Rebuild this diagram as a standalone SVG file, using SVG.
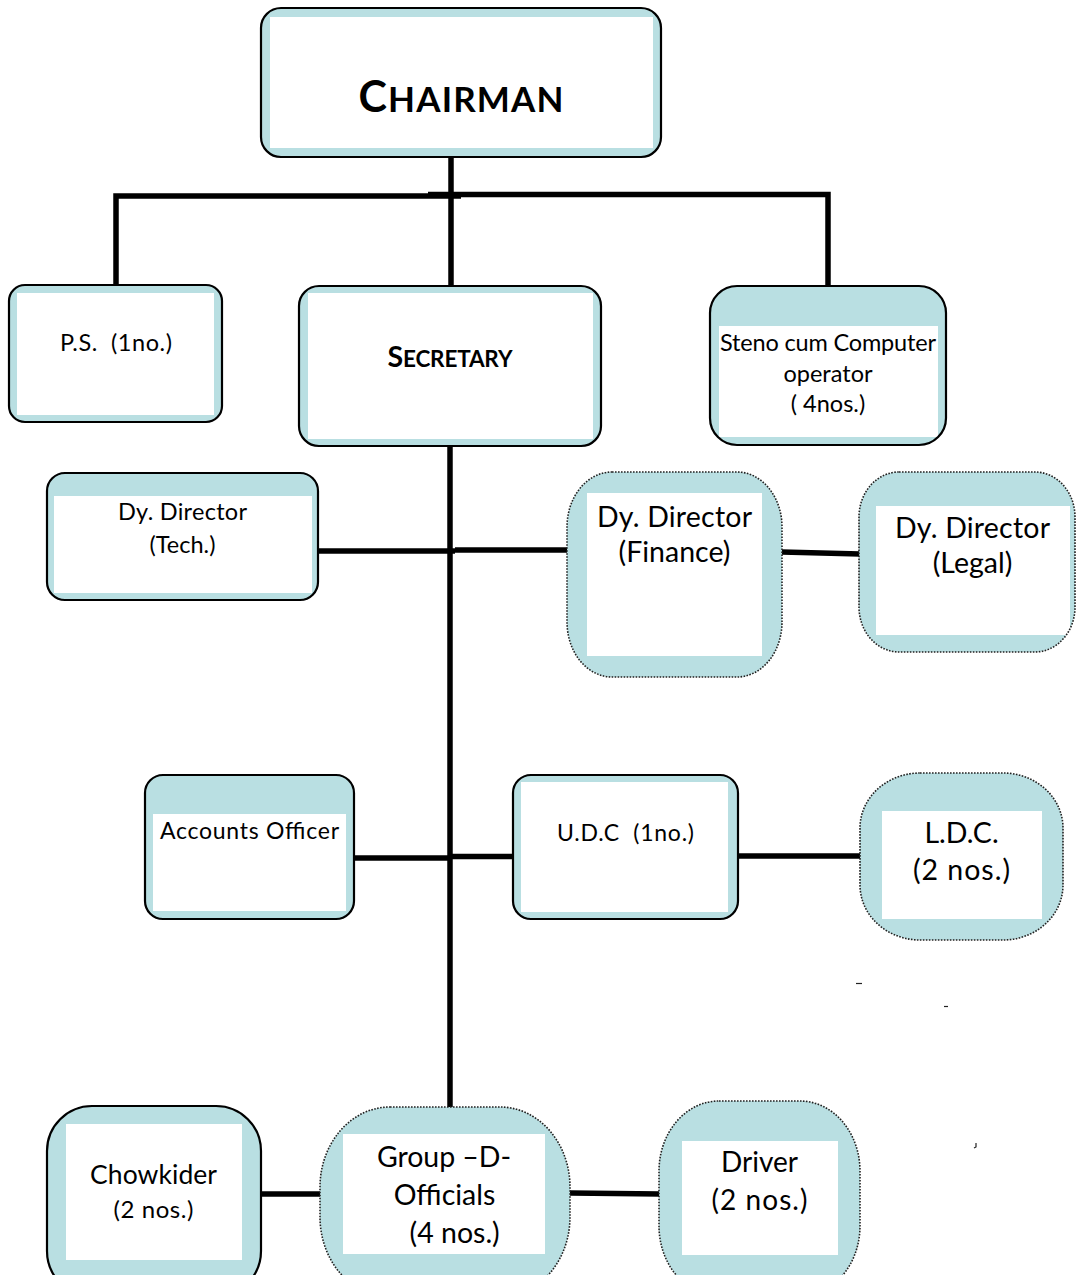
<svg xmlns="http://www.w3.org/2000/svg" width="1076" height="1275" viewBox="0 0 1076 1275">
<style>
.bg{fill:#b9dfe2}
.in{fill:#ffffff}
.bd{fill:none;stroke:#000;stroke-width:2.2}
.dt{fill:none;stroke:#222;stroke-width:1.6;stroke-dasharray:1.6 1.4}
.cn{fill:none;stroke:#000;stroke-width:5.5;stroke-linejoin:miter}
.t{font-family:Lato,"Open Sans",sans-serif;fill:#000;text-anchor:middle}
.b{font-weight:bold}
.mk{fill:none;stroke:#222;stroke-width:1.2}
</style>
<rect width="1076" height="1275" fill="#fff"/>

<g id="connectors">
  <path class="cn" d="M451,157 V287"/>
  <path class="cn" d="M116,288 V196 H461"/>
  <path class="cn" d="M428,194.5 H828 V288"/>
  <path class="cn" d="M450,447 V1108"/>
  <path class="cn" d="M319,551 H455"/>
  <path class="cn" d="M455,550 H568"/>
  <path class="cn" d="M782,552 L860,554"/>
  <path class="cn" d="M354,858 H451"/>
  <path class="cn" d="M451,856.5 H514"/>
  <path class="cn" d="M738,856 H861"/>
  <path class="cn" d="M261,1194 H320"/>
  <path class="cn" d="M570,1193 L660,1194"/>
</g>

<g id="chairman">
  <rect class="bg" x="261" y="8" width="400" height="149" rx="20"/>
  <rect class="in" x="270" y="17" width="383" height="131"/>
  <rect class="bd" x="261" y="8" width="400" height="149" rx="20"/>
  <text class="t b" x="461" y="112" font-size="43" textLength="205">C<tspan font-size="35">HAIRMAN</tspan></text>
</g>

<g id="ps">
  <rect class="bg" x="9" y="285" width="213" height="137" rx="16"/>
  <rect class="in" x="17" y="293" width="197" height="122"/>
  <rect class="bd" x="9" y="285" width="213" height="137" rx="16"/>
  <text class="t" x="116" y="351" font-size="23.5" textLength="112" xml:space="preserve">P.S.  (1no.)</text>
</g>

<g id="secretary">
  <rect class="bg" x="299" y="286" width="302" height="160" rx="20"/>
  <rect class="in" x="308" y="293" width="285" height="146"/>
  <rect class="bd" x="299" y="286" width="302" height="160" rx="20"/>
  <text class="t b" x="450" y="367" font-size="28.5" textLength="125">S<tspan font-size="22.5">ECRETARY</tspan></text>
</g>

<g id="steno">
  <rect class="bg" x="710" y="286" width="236" height="159" rx="27"/>
  <rect class="in" x="719" y="326" width="219" height="111"/>
  <rect class="bd" x="710" y="286" width="236" height="159" rx="27"/>
  <text class="t" x="828" y="351" font-size="23.5" textLength="216">Steno cum Computer</text>
  <text class="t" x="828" y="382" font-size="23.5">operator</text>
  <text class="t" x="828" y="412" font-size="23.5">( 4nos.)</text>
</g>

<g id="dy-tech">
  <rect class="bg" x="47" y="473" width="271" height="127" rx="18"/>
  <rect class="in" x="54" y="496" width="258" height="97"/>
  <rect class="bd" x="47" y="473" width="271" height="127" rx="18"/>
  <text class="t" x="182.5" y="520" font-size="23.5" textLength="129">Dy. Director</text>
  <text class="t" x="182.5" y="553" font-size="23.5">(Tech.)</text>
</g>

<g id="dy-finance">
  <rect class="bg" x="567" y="472" width="215" height="205" rx="45" ry="55"/>
  <rect class="in" x="587" y="493" width="175" height="163"/>
  <rect class="dt" x="567" y="472" width="215" height="205" rx="45" ry="55"/>
  <text class="t" x="674.5" y="527" font-size="28.5" textLength="155">Dy. Director</text>
  <text class="t" x="674.5" y="562" font-size="28.5">(Finance)</text>
</g>

<g id="dy-legal">
  <rect class="bg" x="859" y="472" width="216" height="180" rx="40" ry="45"/>
  <rect class="in" x="876" y="506" width="194" height="129"/>
  <rect class="dt" x="859" y="472" width="216" height="180" rx="40" ry="45"/>
  <text class="t" x="972.5" y="538" font-size="28.5" textLength="155">Dy. Director</text>
  <text class="t" x="972.5" y="573" font-size="28.5">(Legal)</text>
</g>

<g id="accounts">
  <rect class="bg" x="145" y="775" width="209" height="144" rx="18"/>
  <rect class="in" x="153" y="814" width="193" height="97"/>
  <rect class="bd" x="145" y="775" width="209" height="144" rx="18"/>
  <text class="t" x="249.5" y="839" font-size="23" textLength="179">Accounts Officer</text>
</g>

<g id="udc">
  <rect class="bg" x="513" y="775" width="225" height="144" rx="18"/>
  <rect class="in" x="521" y="782" width="207" height="130"/>
  <rect class="bd" x="513" y="775" width="225" height="144" rx="18"/>
  <text class="t" x="625.5" y="841" font-size="23" textLength="137" xml:space="preserve">U.D.C  (1no.)</text>
</g>

<g id="ldc">
  <rect class="bg" x="860" y="773" width="203" height="167" rx="60" ry="55"/>
  <rect class="in" x="882" y="811" width="160" height="108"/>
  <rect class="dt" x="860" y="773" width="203" height="167" rx="60" ry="55"/>
  <text class="t" x="961.5" y="843" font-size="28.5">L.D.C.</text>
  <text class="t" x="961.5" y="880" font-size="28.5" textLength="97">(2 nos.)</text>
</g>

<g id="chowkider">
  <rect class="bg" x="47" y="1106" width="214" height="190" rx="45"/>
  <rect class="in" x="66" y="1124" width="176" height="136"/>
  <rect class="bd" x="47" y="1106" width="214" height="190" rx="45"/>
  <text class="t" x="153.5" y="1184" font-size="26.5" textLength="127">Chowkider</text>
  <text class="t" x="153.5" y="1218" font-size="24" textLength="80">(2 nos.)</text>
</g>

<g id="group-d">
  <rect class="bg" x="320" y="1107" width="250" height="190" rx="70" ry="80"/>
  <rect class="in" x="343" y="1134" width="202" height="120"/>
  <rect class="dt" x="320" y="1107" width="250" height="190" rx="70" ry="80"/>
  <text class="t" x="444" y="1167" font-size="28.5" textLength="134">Group –D-</text>
  <text class="t" x="444.5" y="1205" font-size="28.5">Officials</text>
  <text class="t" x="451" y="1243" font-size="28.5" xml:space="preserve"> (4 nos.)</text>
</g>

<g id="driver">
  <rect class="bg" x="659" y="1101" width="201" height="195" rx="60" ry="70"/>
  <rect class="in" x="682" y="1141" width="156" height="114"/>
  <rect class="dt" x="659" y="1101" width="201" height="195" rx="60" ry="70"/>
  <text class="t" x="759.5" y="1172" font-size="28">Driver</text>
  <text class="t" x="759.5" y="1210" font-size="28" textLength="96">(2 nos.)</text>
</g>

<g id="marks">
  <path class="mk" d="M856,983.5 H862"/>
  <path class="mk" d="M944,1006.5 H948"/>
  <path class="mk" d="M976,1143 V1147 L974,1148"/>
</g>
</svg>
